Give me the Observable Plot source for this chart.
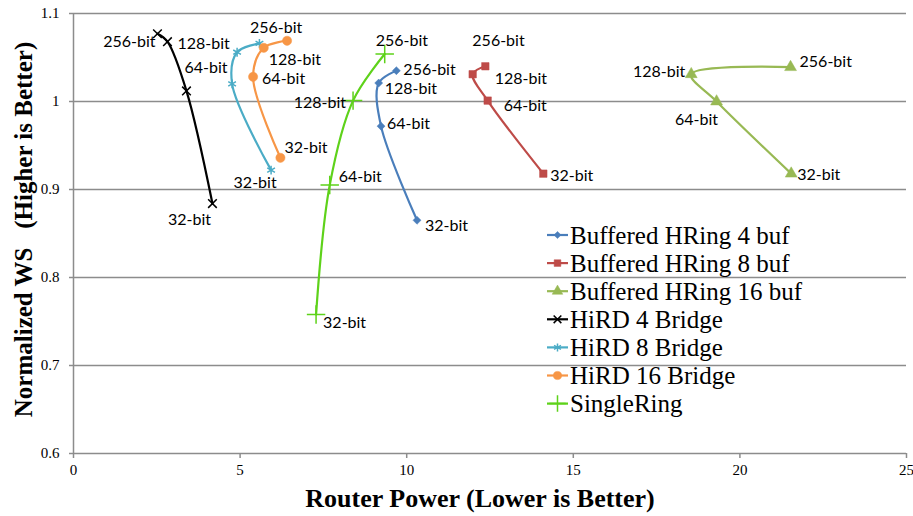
<!DOCTYPE html>
<html>
<head>
<meta charset="utf-8">
<script src="https://cdn.jsdelivr.net/npm/d3@7"></script>
<script src="https://cdn.jsdelivr.net/npm/@observablehq/plot@0.6"></script>
<style>
  body { margin: 0; background: #fff; }
  #chart svg { display: block; }
</style>
</head>
<body>
<div id="chart"></div>
<script>
// ---------- DATA ----------
const bitLabels = ["32-bit", "64-bit", "128-bit", "256-bit"];
const seriesNames = [
  "Buffered HRing 4 buf",
  "Buffered HRing 8 buf",
  "Buffered HRing 16 buf",
  "HiRD 4 Bridge",
  "HiRD 8 Bridge",
  "HiRD 16 Bridge",
  "SingleRing"
];
const powerBufHRing4  = [10.31, 9.23, 9.16, 9.69];
const wsBufHRing4     = [0.865, 0.972, 1.021, 1.035];
const powerBufHRing8  = [14.10, 12.43, 11.98, 12.36];
const wsBufHRing8     = [0.918, 1.001, 1.031, 1.040];
const powerBufHRing16 = [21.54, 19.30, 18.54, 21.52];
const wsBufHRing16    = [0.918, 1.000, 1.031, 1.039];
const powerHiRD4      = [4.17, 3.39, 2.82, 2.52];
const wsHiRD4         = [0.884, 1.012, 1.068, 1.077];
const powerHiRD8      = [5.93, 4.76, 4.91, 5.58];
const wsHiRD8         = [0.922, 1.020, 1.056, 1.066];
const powerHiRD16     = [6.21, 5.39, 5.71, 6.41];
const wsHiRD16        = [0.936, 1.028, 1.061, 1.069];
const powerSingleRing = [7.28, 7.69, 8.39, 9.34];
const wsSingleRing    = [0.758, 0.905, 1.001, 1.054];
const xTicks = [0, 5, 10, 15, 20, 25];
const yTicks = [0.6, 0.7, 0.8, 0.9, 1, 1.1];

// ---------- STYLE ----------
const serif = "'Liberation Serif', 'Times New Roman', Times, 'DejaVu Serif', serif";
const powers = [powerBufHRing4, powerBufHRing8, powerBufHRing16, powerHiRD4, powerHiRD8, powerHiRD16, powerSingleRing];
const wss = [wsBufHRing4, wsBufHRing8, wsBufHRing16, wsHiRD4, wsHiRD8, wsHiRD16, wsSingleRing];
const colors = ["#4A7EBB", "#BE4B48", "#98B954", "#000000", "#4BACC6", "#F79646", "#5ED21A"];
const symbols = ["diamond2", "square", "triangle", "times", "asterisk", "circle", "plus"];
const symFilled = [true, true, true, false, false, true, false];
const symR = [3.6, 4.2, 4.4, 4, 4.2, 4.6, 6];
// label placement per series [32,64,128,256]: [dx, dy, anchor] or null (hidden)
const labelPlace = [
  [[8, 6, "start"], [6, -2, "start"], [6, 6, "start"], [7, -1, "start"]],
  [[7, 2, "start"], [16, 5, "start"], [22, 5, "start"], [-13, -25, "start"]],
  [[6, 1, "start"], [-20, 18, "middle"], [-6, -2, "end"], [9, -5, "start"]],
  [[-23, 16, "middle"], [-2, -23, "start"], [10, 2, "start"], [-2, 8, "end"]],
  [[-16, 13, "middle"], null, null, null],
  [[4, -10, "start"], [9, 2, "start"], [5, 12, "start"], [-11, -13, "middle"]],
  [[7, 8, "start"], [9, -8, "start"], [-7, 2, "end"], [-9, -13, "start"]]
];

const rows = [];
seriesNames.forEach((name, s) => {
  bitLabels.forEach((b, i) => rows.push({series: name, s, i, bits: b, power: powers[s][i], ws: wss[s][i]}));
});

const gridColor = "#8C8C8C";
const marks = [
  Plot.ruleY(yTicks.filter(d => d > 0.6), {stroke: gridColor, strokeWidth: 1.5}),
  Plot.ruleX([0], {stroke: gridColor, strokeWidth: 1.5}),
  Plot.ruleY([0.6], {stroke: gridColor, strokeWidth: 1.5}),
  Plot.axisX({ticks: xTicks, tickSize: 5, tickPadding: 6, stroke: gridColor, strokeWidth: 1.5,
              fontSize: 15, fontFamily: serif, fill: "#000", tickFormat: d => String(d), label: null}),
  Plot.axisY({ticks: yTicks, tickSize: 4, tickPadding: 10, stroke: gridColor, strokeWidth: 1.5,
              fontSize: 15, fontFamily: serif, fill: "#000", tickFormat: d => String(d), label: null}),
  Plot.text(["Router Power (Lower is Better)"], {frameAnchor: "bottom", dx: -10, dy: 53, fontSize: 26,
              fontWeight: "bold", fontFamily: serif, fill: "#000", textAnchor: "middle"}),
  Plot.text(["Normalized WS\u00a0\u00a0\u00a0(Higher is Better)"], {frameAnchor: "left", dx: -50, dy: -4, rotate: -90,
              textAnchor: "middle", fontSize: 25, fontWeight: "bold", fontFamily: serif, fill: "#000"})
];

seriesNames.forEach((name, s) => {
  const d = rows.filter(r => r.s === s);
  marks.push(Plot.line(d, {x: "power", y: "ws", stroke: colors[s], strokeWidth: 2.2, curve: "catmull-rom"}));
});
seriesNames.forEach((name, s) => {
  const d = rows.filter(r => r.s === s);
  marks.push(Plot.dot(d, {x: "power", y: "ws", symbol: () => symbols[s], r: symR[s],
    fill: symFilled[s] ? colors[s] : "none", stroke: colors[s], strokeWidth: symFilled[s] ? 0.5 : 1.5}));
});
rows.forEach(r => {
  const p = labelPlace[r.s][r.i];
  if (!p) return;
  marks.push(Plot.text([r], {x: "power", y: "ws", text: "bits", dx: p[0], dy: p[1], textAnchor: p[2],
    fontFamily: "Lato", fontSize: 16, fill: "#000"}));
});

const chart = Plot.plot({
  width: 913,
  height: 516,
  marginLeft: 73,
  marginRight: 7,
  marginTop: 13,
  marginBottom: 63,
  style: {fontFamily: serif, background: "#fff", color: "#000"},
  x: {domain: [0, 25], label: null},
  y: {domain: [0.6, 1.1], label: null},
  marks
});
document.getElementById("chart").appendChild(chart);

// ---------- LEGEND (inside plot area) ----------
const svg = d3.select(chart);
const lg = svg.append("g").attr("transform", "translate(547,235)").attr("text-anchor", "start");
const symMap = {diamond2: d3.symbolDiamond2, square: d3.symbolSquare, triangle: d3.symbolTriangle,
  times: d3.symbolTimes, asterisk: d3.symbolAsterisk, circle: d3.symbolCircle, plus: d3.symbolPlus};
seriesNames.forEach((name, s) => {
  const g = lg.append("g").attr("transform", `translate(0,${s * 28.1})`);
  g.append("line").attr("x1", 0).attr("x2", 21).attr("y1", 0).attr("y2", 0)
    .attr("stroke", colors[s]).attr("stroke-width", 2.2);
  g.append("path").attr("transform", "translate(10.5,0)")
    .attr("d", d3.symbol(symMap[symbols[s]], Math.PI * symR[s] * symR[s] * 0.8)())
    .attr("fill", symFilled[s] ? colors[s] : "none").attr("stroke", colors[s])
    .attr("stroke-width", symFilled[s] ? 0.5 : 1.5);
  g.append("text").attr("x", 23).attr("y", 0).attr("dy", "0.35em").attr("text-anchor", "start")
    .style("font-family", serif).attr("font-size", 25).attr("fill", "#000").text(name);
});
</script>
</body>
</html>
